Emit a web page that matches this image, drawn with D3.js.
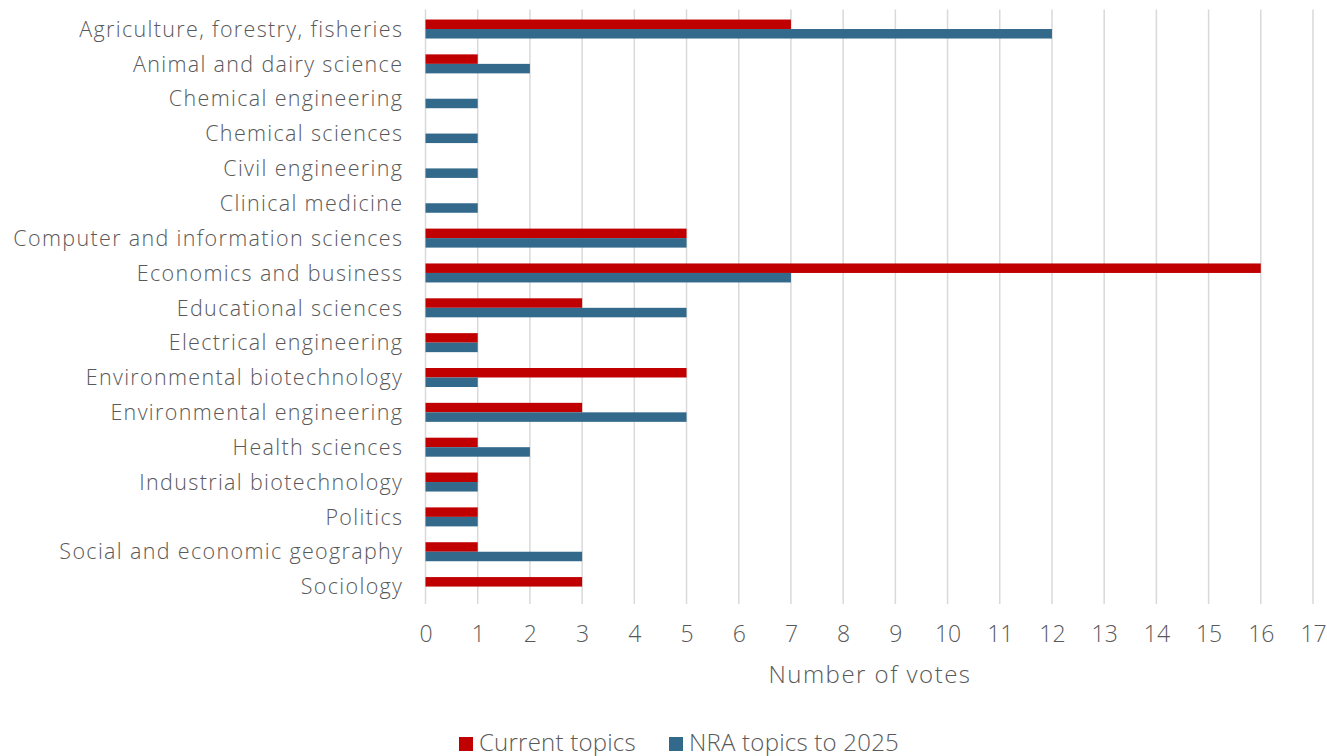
<!DOCTYPE html>
<html><head><meta charset="utf-8">
<script src="https://cdn.jsdelivr.net/npm/d3@7"></script>
<style>body{margin:0;background:#fff}svg{display:block}text{font-family:"Open Sans",Lato,sans-serif;font-weight:300;fill:#595959}</style>
</head><body><svg id="c" width="1327" height="756"></svg>
<script>
const categories = ["Agriculture, forestry, fisheries","Animal and dairy science","Chemical engineering","Chemical sciences","Civil engineering","Clinical medicine","Computer and information sciences","Economics and business","Educational sciences","Electrical engineering","Environmental biotechnology","Environmental engineering","Health sciences","Industrial biotechnology","Politics","Social and economic geography","Sociology"];
const currentTopics = [7,1,0,0,0,0,5,16,3,1,5,3,1,1,1,1,3];
const nraTopics = [12,2,1,1,1,1,5,7,5,1,1,5,2,1,1,3,0];
const seriesNames = ["Current topics","NRA topics to 2025"];
const seriesColors = ["#C00000","#33698A"];
const xTicks = d3.range(0,18);
const axisTitle = "Number of votes";

const svg = d3.select("#c");
const pLeft = 425.5, pRight = 1313, pTop = 11.6, pBottom = 604;
const x = d3.scaleLinear().domain([0,17]).range([pLeft,pRight]);
const y = d3.scaleBand().domain(categories).range([pTop,pBottom]);
const bh = 9.5;

function spacingFor(str, size, target){
  const t = svg.append("text").attr("font-size",size).text(str);
  const w = t.node().getComputedTextLength(); t.remove();
  return (target - w) / (str.length);
}

svg.append("g").selectAll("line").data(xTicks).join("line")
  .attr("x1",d=>x(d)).attr("x2",d=>x(d)).attr("y1",pTop-2).attr("y2",pBottom)
  .attr("stroke","#d9d9d9").attr("stroke-width",1.5);

const series = [currentTopics, nraTopics];
series.forEach((vals,si)=>{
  svg.append("g").selectAll("rect").data(vals.map((v,i)=>({v,c:categories[i]}))).join("rect")
    .attr("x",x(0)).attr("width",d=>x(d.v)-x(0))
    .attr("y",d=>y(d.c)+y.bandwidth()/2 - (si===0?bh:0)).attr("height",bh)
    .attr("fill",seriesColors[si]);
});

const labSp = spacingFor("Computer and information sciences", 21.5, 390);
svg.append("g").selectAll("text").data(categories).join("text")
  .attr("x",402+labSp).attr("y",d=>y(d)+y.bandwidth()/2).attr("dy","0.36em")
  .attr("text-anchor","end").attr("font-size",21.5).style("letter-spacing",labSp+"px").text(d=>d);

const xa = svg.append("g").attr("transform",`translate(0,${pBottom})`)
  .call(d3.axisBottom(x).tickValues(xTicks).tickSize(0).tickPadding(22));
xa.select(".domain").remove();
xa.selectAll("text").attr("font-size",23).style("font-family",'"Open Sans",Lato,sans-serif')
  .style("font-weight",300).attr("fill","#595959");

const titleSp = spacingFor(axisTitle, 24, 203);
svg.append("text").attr("x",(pLeft+pRight)/2+titleSp/2).attr("y",683).attr("text-anchor","middle")
  .attr("font-size",24).style("letter-spacing",titleSp+"px").text(axisTitle);

const legSp = spacingFor("NRA topics to 2025", 24, 210);
const lg = svg.append("g");
const legendX = [459, 669];
seriesNames.forEach((n,i)=>{
  lg.append("rect").attr("x",legendX[i]).attr("y",737).attr("width",14).attr("height",14).attr("fill",seriesColors[i]);
  lg.append("text").attr("x",legendX[i]+20).attr("y",750.5).attr("font-size",24).style("letter-spacing",legSp+"px").text(n);
});
</script></body></html>
